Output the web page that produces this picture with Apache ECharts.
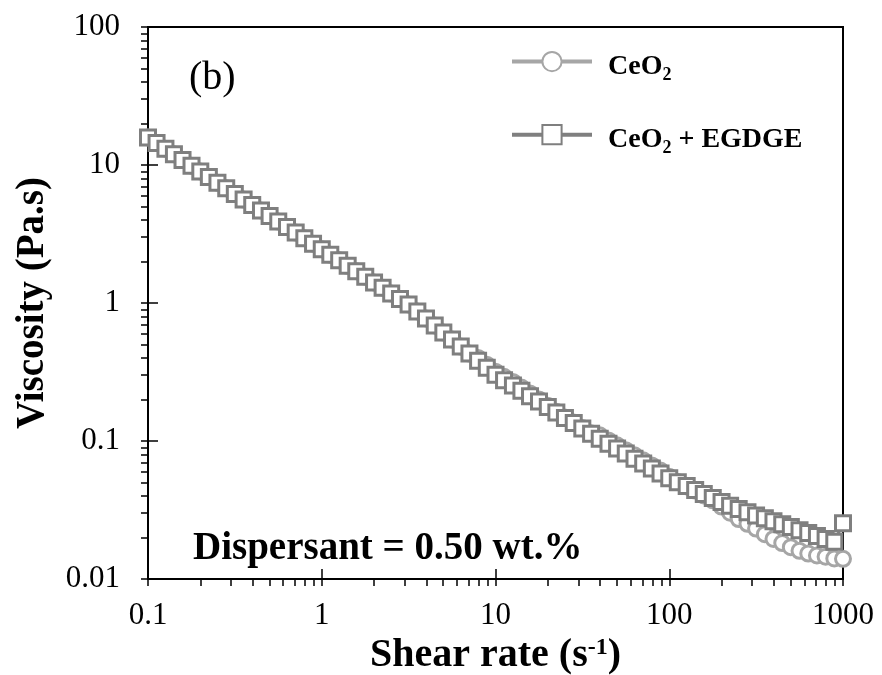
<!DOCTYPE html>
<html>
<head>
<meta charset="utf-8">
<script src="https://cdn.jsdelivr.net/npm/echarts@6/dist/echarts.min.js"></script>
<style>
html,body{margin:0;padding:0;background:#fff;}
#chart{width:882px;height:675px;}
</style>
</head>
<body>
<div id="chart"></div>
<script>
// Shear rate (s^-1), log-spaced as measured
var shearRate = [0.1,0.112,0.126,0.141,0.158,0.178,0.2,0.224,0.251,0.282,0.316,0.355,0.398,0.447,0.501,0.562,0.631,0.708,0.794,0.891,
  1,1.12,1.26,1.41,1.58,1.78,2,2.24,2.51,2.82,3.16,3.55,3.98,4.47,5.01,5.62,6.31,7.08,7.94,8.91,
  10,11.2,12.6,14.1,15.8,17.8,20,22.4,25.1,28.2,31.6,35.5,39.8,44.7,50.1,56.2,63.1,70.8,79.4,89.1,
  100,112,126,141,158,178,200,224,251,282,316,355,398,447,501,562,631,708,794,891,1000];

// Viscosity (Pa.s) - CeO2
var viscCeO2 = [15.85,14.42,13.12,11.94,10.86,9.89,8.99,8.18,7.45,6.78,6.17,
  5.62,5.13,4.68,4.27,3.89,3.55,3.24,2.95,2.69,2.45,
  2.24,2.04,1.86,1.70,1.55,1.41,1.29,1.17,1.07,0.977,
  0.869,0.773,0.687,0.611,0.543,0.483,0.430,0.40,0.357,0.318,
  0.292,0.268,0.244,0.221,0.200,0.180,0.163,0.148,0.136,0.124,
  0.114,0.110,0.101,0.093,0.0858,0.0788,0.0725,0.0665,0.061,0.055,
  0.0505,0.0468,0.0437,0.0403,0.0372,0.0335,0.0302,0.0272,0.0251,0.0232,
  0.0211,0.0195,0.0182,0.0170,0.0160,0.0153,0.0148,0.0145,0.0141,0.0140];

// Viscosity (Pa.s) - CeO2 + EGDGE
var viscCeO2EGDGE = [15.85,14.42,13.12,11.94,10.86,9.89,8.99,8.18,7.45,6.78,6.17,
  5.62,5.13,4.68,4.27,3.89,3.55,3.24,2.95,2.69,2.45,
  2.24,2.04,1.86,1.70,1.55,1.41,1.29,1.17,1.07,0.977,
  0.869,0.773,0.687,0.611,0.543,0.483,0.430,0.382,0.340,0.302,
  0.276,0.252,0.231,0.211,0.193,0.176,0.161,0.147,0.135,0.123,
  0.113,0.104,0.0957,0.0881,0.0811,0.0745,0.0686,0.0631,0.0582,0.0537,
  0.0503,0.0471,0.0441,0.0413,0.0387,0.0362,0.0339,0.0321,0.0304,0.0288,
  0.0275,0.0262,0.0249,0.0238,0.0226,0.0215,0.0205,0.0195,0.0186,0.0253];

var seriesNames = ['CeO2', 'CeO2 + EGDGE'];
var xMajor = [0.1, 1, 10, 100, 1000];
var xAllTicks = [0.1,0.2,0.3,0.4,0.5,0.6,0.7,0.8,0.9,1,2,3,4,5,6,7,8,9,10,20,30,40,50,60,70,80,90,100,200,300,400,500,600,700,800,900,1000];
var yMajor = [0.01, 0.1, 1, 10, 100];
var yAllTicks = [0.01,0.02,0.03,0.04,0.05,0.06,0.07,0.08,0.09,0.1,0.2,0.3,0.4,0.5,0.6,0.7,0.8,0.9,1,2,3,4,5,6,7,8,9,10,20,30,40,50,60,70,80,90,100];

var FONT = "'Liberation Serif', 'Times New Roman', serif";

function pairs(xs, ys) { return xs.map(function (x, i) { return [x, ys[i]]; }); }

var chart = echarts.init(document.getElementById('chart'), null, {renderer: 'canvas'});

var axisLineStyle = {color: '#000', width: 2};

var option = {
  backgroundColor: '#fff',
  animation: false,
  grid: {left: 148, right: 39, top: 27, bottom: 96, containLabel: false, outerBoundsMode: 'none',
    show: true, borderColor: '#000', borderWidth: 2, backgroundColor: 'transparent'},
  legend: {
    orient: 'vertical',
    left: 505,
    top: 46,
    itemWidth: 80,
    itemHeight: 24,
    itemGap: 40,
    data: seriesNames,
    lineStyle: {width: 4},
    formatter: function (name) { return name.replace('2', '{s|2}'); },
    textStyle: {
      fontFamily: FONT, fontSize: 28, fontWeight: 'bold', color: '#000', padding: [10, 0, 0, 11],
      rich: {
        s: {fontFamily: FONT, fontSize: 18, fontWeight: 'bold', color: '#000', verticalAlign: 'bottom', padding: [17, 0, 0, 0]}
      }
    }
  },
  xAxis: [{
    type: 'log', logBase: 10, min: 0.1, max: 1000, position: 'bottom',
    name: 'Shear rate (s{sup|-1})',
    nameLocation: 'middle', nameGap: 56,
    nameTextStyle: {
      fontFamily: FONT, fontSize: 40, fontWeight: 'bold', color: '#000',
      rich: {sup: {fontFamily: FONT, fontSize: 24, fontWeight: 'bold', color: '#000', padding: [0, 0, 16, 0]}}
    },
    axisLine: {show: true, lineStyle: axisLineStyle},
    axisTick: {show: true, inside: false, length: 7, customValues: xAllTicks, lineStyle: {color: '#000', width: 1.5}},
    axisLabel: {show: true, customValues: xMajor, margin: 21, fontFamily: FONT, fontSize: 31, color: '#000',
      formatter: function (v) { return String(v); }},
    splitLine: {show: false}
  }, {
    type: 'log', logBase: 10, min: 0.1, max: 1000, position: 'bottom',
    axisLine: {show: false},
    axisTick: {show: true, inside: true, length: 10, customValues: xMajor, lineStyle: {color: '#000', width: 1.5}},
    axisLabel: {show: false},
    splitLine: {show: false}
  }],
  yAxis: [{
    type: 'log', logBase: 10, min: 0.01, max: 100, position: 'left',
    name: 'Viscosity (Pa.s)',
    nameLocation: 'middle', nameGap: 96, nameRotate: 90,
    nameTextStyle: {fontFamily: FONT, fontSize: 39, fontWeight: 'bold', color: '#000'},
    axisLine: {show: true, lineStyle: axisLineStyle},
    axisTick: {show: true, inside: false, length: 7, customValues: yAllTicks, lineStyle: {color: '#000', width: 1.5}},
    axisLabel: {show: true, customValues: yMajor, margin: 28, fontFamily: FONT, fontSize: 31, color: '#000',
      formatter: function (v) { return String(v); }},
    splitLine: {show: false}
  }, {
    type: 'log', logBase: 10, min: 0.01, max: 100, position: 'left',
    axisLine: {show: false},
    axisTick: {show: true, inside: true, length: 10, customValues: yMajor, lineStyle: {color: '#000', width: 1.5}},
    axisLabel: {show: false},
    splitLine: {show: false}
  }],
  series: [{
    name: seriesNames[0], type: 'line', xAxisIndex: 0, yAxisIndex: 0,
    data: pairs(shearRate, viscCeO2),
    symbol: 'circle', symbolSize: 15, showSymbol: true, showAllSymbol: true,
    lineStyle: {color: '#a6a6a6', width: 3},
    itemStyle: {color: '#fff', borderColor: '#a6a6a6', borderWidth: 3},
    z: 2
  }, {
    name: seriesNames[1], type: 'line', xAxisIndex: 0, yAxisIndex: 0,
    data: pairs(shearRate, viscCeO2EGDGE),
    symbol: 'rect', symbolSize: 15, showSymbol: true, showAllSymbol: true,
    lineStyle: {color: '#7f7f7f', width: 3},
    itemStyle: {color: '#fff', borderColor: '#7f7f7f', borderWidth: 3},
    z: 3
  }],
  graphic: [{
    type: 'text', left: 189, top: 58,
    style: {text: '(b)', fontFamily: FONT, fontSize: 40, fill: '#000'}
  }, {
    type: 'text', left: 193, top: 529,
    style: {text: 'Dispersant = 0.50 wt.%', fontFamily: FONT, fontSize: 39, fontWeight: 'bold', fill: '#000'}
  }]
};
chart.setOption(option);
</script>
</body>
</html>
